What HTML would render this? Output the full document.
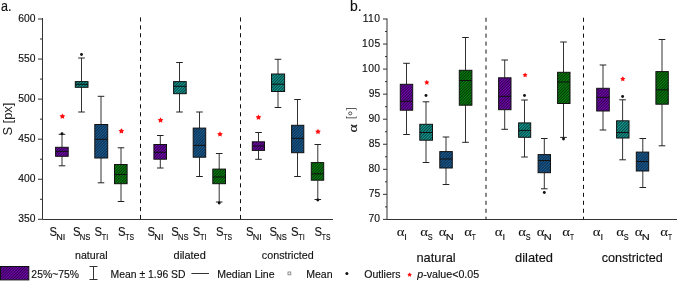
<!DOCTYPE html>
<html><head><meta charset="utf-8"><style>
html,body{margin:0;padding:0;background:#fff;width:677px;height:281px;overflow:hidden}
svg{display:block;will-change:transform}
text{font-family:"Liberation Sans",sans-serif;fill:#111;stroke:#111;stroke-width:0.15px}
.w{stroke:#333;stroke-width:1}
.cap{stroke:#222;stroke-width:1}
.bx{stroke:#111;stroke-width:1}
.med{stroke:#111;stroke-width:1}
.out{fill:#111}
.star{fill:#e8201e;font-size:13px;text-anchor:middle}
.ax{stroke:#333;stroke-width:1;fill:none}
.dash{stroke:#111;stroke-width:1;stroke-dasharray:4 4}
.tl{font-size:10px;text-anchor:end}
.xl{font-size:13px}
.sub{font-size:9px}
.grp{font-size:11px;text-anchor:middle}
.grp2{font-size:13px;text-anchor:middle}
.lg{font-size:10.5px}
</style></head><body>
<svg width="677" height="281" viewBox="0 0 677 281">
<defs>
<pattern id="hP" patternUnits="userSpaceOnUse" width="2" height="2" patternTransform="rotate(45)"><rect width="2" height="2" fill="#760ab4"/><rect width="0.85" height="2" fill="#220038"/></pattern>
<pattern id="hC" patternUnits="userSpaceOnUse" width="2" height="2" patternTransform="rotate(45)"><rect width="2" height="2" fill="#16a096"/><rect width="0.85" height="2" fill="#043030"/></pattern>
<pattern id="hB" patternUnits="userSpaceOnUse" width="2" height="2" patternTransform="rotate(45)"><rect width="2" height="2" fill="#1c5e90"/><rect width="0.85" height="2" fill="#082444"/></pattern>
<pattern id="hG" patternUnits="userSpaceOnUse" width="2" height="2" patternTransform="rotate(45)"><rect width="2" height="2" fill="#0c8414"/><rect width="0.85" height="2" fill="#002a00"/></pattern>
</defs>
<text transform="translate(0.96 10.6) scale(0.838 1)" style="font-size:15px;font-family:'Liberation Sans',sans-serif;">a.</text>
<text transform="translate(349.92 10.6) scale(0.931 1)" style="font-size:15px;font-family:'Liberation Sans',sans-serif;">b.</text>
<path d="M42.5 18 V219.5 H333" class="ax"/>
<line x1="38" y1="19.00" x2="42.5" y2="19.00" class="ax"/>
<text transform="translate(18.20 21.7) scale(1.000 1)" style="font-size:10.3px;font-family:'Liberation Sans',sans-serif;">600</text>
<line x1="40" y1="39.03" x2="42.5" y2="39.03" class="ax"/>
<line x1="38" y1="59.06" x2="42.5" y2="59.06" class="ax"/>
<text transform="translate(18.20 61.76) scale(1.000 1)" style="font-size:10.3px;font-family:'Liberation Sans',sans-serif;">550</text>
<line x1="40" y1="79.09" x2="42.5" y2="79.09" class="ax"/>
<line x1="38" y1="99.12" x2="42.5" y2="99.12" class="ax"/>
<text transform="translate(18.20 101.82) scale(1.000 1)" style="font-size:10.3px;font-family:'Liberation Sans',sans-serif;">500</text>
<line x1="40" y1="119.15" x2="42.5" y2="119.15" class="ax"/>
<line x1="38" y1="139.18" x2="42.5" y2="139.18" class="ax"/>
<text transform="translate(18.20 141.88) scale(1.000 1)" style="font-size:10.3px;font-family:'Liberation Sans',sans-serif;">450</text>
<line x1="40" y1="159.21" x2="42.5" y2="159.21" class="ax"/>
<line x1="38" y1="179.24" x2="42.5" y2="179.24" class="ax"/>
<text transform="translate(18.20 181.94) scale(1.000 1)" style="font-size:10.3px;font-family:'Liberation Sans',sans-serif;">400</text>
<line x1="40" y1="199.27" x2="42.5" y2="199.27" class="ax"/>
<line x1="38" y1="219.30" x2="42.5" y2="219.30" class="ax"/>
<text transform="translate(18.20 222.0) scale(1.000 1)" style="font-size:10.3px;font-family:'Liberation Sans',sans-serif;">350</text>
<text transform="translate(12.0 135.60) rotate(-90) scale(0.994 1)" style="font-size:13px;font-family:'Liberation Sans',sans-serif;stroke-width:0;fill:#222">S [px]</text>
<line x1="140.5" y1="17.4" x2="140.5" y2="219" class="dash" style="stroke-dasharray:4.1 3.8"/>
<line x1="240.5" y1="17.4" x2="240.5" y2="219" class="dash" style="stroke-dasharray:4.1 3.8"/>
<path d="M387.0 18.5 V219.5 H677" class="ax"/>
<line x1="383" y1="19.00" x2="387.0" y2="19.00" class="ax"/>
<text transform="translate(362.65 21.7) scale(1.000 1)" style="font-size:10.3px;font-family:'Liberation Sans',sans-serif;letter-spacing:0.5px;">110</text>
<line x1="385" y1="31.52" x2="387.0" y2="31.52" class="ax"/>
<line x1="383" y1="44.05" x2="387.0" y2="44.05" class="ax"/>
<text transform="translate(361.95 46.75) scale(1.000 1)" style="font-size:10.3px;font-family:'Liberation Sans',sans-serif;letter-spacing:0.5px;">105</text>
<line x1="385" y1="56.57" x2="387.0" y2="56.57" class="ax"/>
<line x1="383" y1="69.10" x2="387.0" y2="69.10" class="ax"/>
<text transform="translate(361.90 71.8) scale(1.000 1)" style="font-size:10.3px;font-family:'Liberation Sans',sans-serif;letter-spacing:0.5px;">100</text>
<line x1="385" y1="81.62" x2="387.0" y2="81.62" class="ax"/>
<line x1="383" y1="94.15" x2="387.0" y2="94.15" class="ax"/>
<text transform="translate(368.65 96.85) scale(1.000 1)" style="font-size:10.3px;font-family:'Liberation Sans',sans-serif;">95</text>
<line x1="385" y1="106.68" x2="387.0" y2="106.68" class="ax"/>
<line x1="383" y1="119.20" x2="387.0" y2="119.20" class="ax"/>
<text transform="translate(368.60 121.9) scale(1.000 1)" style="font-size:10.3px;font-family:'Liberation Sans',sans-serif;">90</text>
<line x1="385" y1="131.72" x2="387.0" y2="131.72" class="ax"/>
<line x1="383" y1="144.25" x2="387.0" y2="144.25" class="ax"/>
<text transform="translate(368.65 146.95) scale(1.000 1)" style="font-size:10.3px;font-family:'Liberation Sans',sans-serif;">85</text>
<line x1="385" y1="156.78" x2="387.0" y2="156.78" class="ax"/>
<line x1="383" y1="169.30" x2="387.0" y2="169.30" class="ax"/>
<text transform="translate(368.60 172.0) scale(1.000 1)" style="font-size:10.3px;font-family:'Liberation Sans',sans-serif;">80</text>
<line x1="385" y1="181.83" x2="387.0" y2="181.83" class="ax"/>
<line x1="383" y1="194.35" x2="387.0" y2="194.35" class="ax"/>
<text transform="translate(368.65 197.05) scale(1.000 1)" style="font-size:10.3px;font-family:'Liberation Sans',sans-serif;">75</text>
<line x1="385" y1="206.88" x2="387.0" y2="206.88" class="ax"/>
<line x1="383" y1="219.40" x2="387.0" y2="219.40" class="ax"/>
<text transform="translate(368.60 222.1) scale(1.000 1)" style="font-size:10.3px;font-family:'Liberation Sans',sans-serif;">70</text>
<text transform="translate(357.0 132.60) rotate(-90) scale(1.333 1)" style="font-size:12px;font-family:'Liberation Serif',serif;">α</text>
<text transform="translate(355.3 118.95) rotate(-90) scale(0.787 1)" style="font-size:12.5px;font-family:'Liberation Serif',serif;stroke-width:0;fill:#222">[  ]</text>
<circle cx="350.2" cy="113.4" r="1.55" fill="none" stroke="#222" stroke-width="0.75"/>
<line x1="486" y1="17.7" x2="486" y2="219" class="dash" style="stroke-dasharray:4.1 3.86"/>
<line x1="583.5" y1="17.7" x2="583.5" y2="219" class="dash" style="stroke-dasharray:4.1 3.86"/>
<line x1="62.0" y1="134.3" x2="62.0" y2="147.3" class="w"/>
<line x1="62.0" y1="156.29999999999998" x2="62.0" y2="165.8" class="w"/>
<line x1="58.7" y1="134.3" x2="65.3" y2="134.3" class="cap"/>
<line x1="58.7" y1="165.8" x2="65.3" y2="165.8" class="cap"/>
<rect x="55.599999999999994" y="147.3" width="12.600000000000009" height="8.999999999999972" fill="url(#hP)" class="bx"/>
<line x1="55.599999999999994" y1="151.4" x2="68.2" y2="151.4" class="med"/>
<circle cx="62.0" cy="133.8" r="1.45" class="out"/>
<polygon points="62.40,113.45 63.35,115.09 65.21,115.49 63.94,116.90 64.13,118.79 62.40,118.02 60.67,118.79 60.86,116.90 59.59,115.49 61.45,115.09" fill="#ff1010"/>
<line x1="81.5" y1="58.0" x2="81.5" y2="81.6" class="w"/>
<line x1="81.5" y1="87.3" x2="81.5" y2="112.0" class="w"/>
<line x1="78.2" y1="58.0" x2="84.8" y2="58.0" class="cap"/>
<line x1="78.2" y1="112.0" x2="84.8" y2="112.0" class="cap"/>
<rect x="75.3" y="81.6" width="12.700000000000003" height="5.700000000000003" fill="url(#hC)" class="bx"/>
<line x1="75.3" y1="84.3" x2="88.0" y2="84.3" class="med"/>
<circle cx="81.5" cy="54.5" r="1.45" class="out"/>
<line x1="101.0" y1="96.3" x2="101.0" y2="124.5" class="w"/>
<line x1="101.0" y1="158.0" x2="101.0" y2="182.8" class="w"/>
<line x1="97.7" y1="96.3" x2="104.3" y2="96.3" class="cap"/>
<line x1="97.7" y1="182.8" x2="104.3" y2="182.8" class="cap"/>
<rect x="94.8" y="124.5" width="12.900000000000006" height="33.5" fill="url(#hB)" class="bx"/>
<line x1="94.8" y1="139.3" x2="107.7" y2="139.3" class="med"/>
<line x1="121.0" y1="147.8" x2="121.0" y2="164.5" class="w"/>
<line x1="121.0" y1="183.7" x2="121.0" y2="201.5" class="w"/>
<line x1="117.7" y1="147.8" x2="124.3" y2="147.8" class="cap"/>
<line x1="117.7" y1="201.5" x2="124.3" y2="201.5" class="cap"/>
<rect x="114.5" y="164.5" width="12.600000000000009" height="19.19999999999999" fill="url(#hG)" class="bx"/>
<line x1="114.5" y1="174.5" x2="127.10000000000001" y2="174.5" class="med"/>
<polygon points="121.40,128.15 122.35,129.79 124.21,130.19 122.94,131.60 123.13,133.49 121.40,132.72 119.67,133.49 119.86,131.60 118.59,130.19 120.45,129.79" fill="#ff1010"/>
<line x1="160.3" y1="135.5" x2="160.3" y2="144.5" class="w"/>
<line x1="160.3" y1="159.2" x2="160.3" y2="168.0" class="w"/>
<line x1="157.0" y1="135.5" x2="163.60000000000002" y2="135.5" class="cap"/>
<line x1="157.0" y1="168.0" x2="163.60000000000002" y2="168.0" class="cap"/>
<rect x="153.9" y="144.5" width="12.599999999999994" height="14.699999999999989" fill="url(#hP)" class="bx"/>
<line x1="153.9" y1="152.3" x2="166.5" y2="152.3" class="med"/>
<polygon points="160.55,117.30 161.50,118.94 163.36,119.34 162.09,120.75 162.28,122.64 160.55,121.87 158.82,122.64 159.01,120.75 157.74,119.34 159.60,118.94" fill="#ff1010"/>
<line x1="179.5" y1="62.5" x2="179.5" y2="81.6" class="w"/>
<line x1="179.5" y1="93.7" x2="179.5" y2="112.0" class="w"/>
<line x1="176.2" y1="62.5" x2="182.8" y2="62.5" class="cap"/>
<line x1="176.2" y1="112.0" x2="182.8" y2="112.0" class="cap"/>
<rect x="173.60000000000002" y="81.6" width="12.599999999999966" height="12.100000000000009" fill="url(#hC)" class="bx"/>
<line x1="173.60000000000002" y1="86.3" x2="186.2" y2="86.3" class="med"/>
<line x1="199.5" y1="112.0" x2="199.5" y2="128.1" class="w"/>
<line x1="199.5" y1="157.2" x2="199.5" y2="176.5" class="w"/>
<line x1="196.2" y1="112.0" x2="202.8" y2="112.0" class="cap"/>
<line x1="196.2" y1="176.5" x2="202.8" y2="176.5" class="cap"/>
<rect x="193.20000000000002" y="128.1" width="12.499999999999972" height="29.099999999999994" fill="url(#hB)" class="bx"/>
<line x1="193.20000000000002" y1="145.4" x2="205.7" y2="145.4" class="med"/>
<line x1="219.2" y1="153.5" x2="219.2" y2="169.10000000000002" class="w"/>
<line x1="219.2" y1="183.7" x2="219.2" y2="202.0" class="w"/>
<line x1="215.89999999999998" y1="153.5" x2="222.5" y2="153.5" class="cap"/>
<line x1="215.89999999999998" y1="202.0" x2="222.5" y2="202.0" class="cap"/>
<rect x="212.8" y="169.10000000000002" width="12.699999999999989" height="14.599999999999966" fill="url(#hG)" class="bx"/>
<line x1="212.8" y1="177.0" x2="225.5" y2="177.0" class="med"/>
<circle cx="219.2" cy="203.0" r="1.45" class="out"/>
<polygon points="220.00,131.25 220.95,132.89 222.81,133.29 221.54,134.70 221.73,136.59 220.00,135.82 218.27,136.59 218.46,134.70 217.19,133.29 219.05,132.89" fill="#ff1010"/>
<line x1="258.5" y1="132.5" x2="258.5" y2="141.8" class="w"/>
<line x1="258.5" y1="150.39999999999998" x2="258.5" y2="159.3" class="w"/>
<line x1="255.2" y1="132.5" x2="261.8" y2="132.5" class="cap"/>
<line x1="255.2" y1="159.3" x2="261.8" y2="159.3" class="cap"/>
<rect x="252.3" y="141.8" width="12.199999999999989" height="8.599999999999966" fill="url(#hP)" class="bx"/>
<line x1="252.3" y1="146.0" x2="264.5" y2="146.0" class="med"/>
<polygon points="258.50,114.45 259.45,116.09 261.31,116.49 260.04,117.90 260.23,119.79 258.50,119.02 256.77,119.79 256.96,117.90 255.69,116.49 257.55,116.09" fill="#ff1010"/>
<line x1="278.0" y1="59.3" x2="278.0" y2="74.0" class="w"/>
<line x1="278.0" y1="91.5" x2="278.0" y2="107.5" class="w"/>
<line x1="274.7" y1="59.3" x2="281.3" y2="59.3" class="cap"/>
<line x1="274.7" y1="107.5" x2="281.3" y2="107.5" class="cap"/>
<rect x="271.5" y="74.0" width="13.099999999999966" height="17.5" fill="url(#hC)" class="bx"/>
<line x1="271.5" y1="84.2" x2="284.59999999999997" y2="84.2" class="med"/>
<line x1="297.5" y1="99.5" x2="297.5" y2="125.3" class="w"/>
<line x1="297.5" y1="152.7" x2="297.5" y2="176.5" class="w"/>
<line x1="294.2" y1="99.5" x2="300.8" y2="99.5" class="cap"/>
<line x1="294.2" y1="176.5" x2="300.8" y2="176.5" class="cap"/>
<rect x="291.6" y="125.3" width="12.199999999999989" height="27.39999999999999" fill="url(#hB)" class="bx"/>
<line x1="291.6" y1="138.3" x2="303.8" y2="138.3" class="med"/>
<line x1="317.8" y1="144.5" x2="317.8" y2="162.60000000000002" class="w"/>
<line x1="317.8" y1="180.2" x2="317.8" y2="199.5" class="w"/>
<line x1="314.5" y1="144.5" x2="321.1" y2="144.5" class="cap"/>
<line x1="314.5" y1="199.5" x2="321.1" y2="199.5" class="cap"/>
<rect x="311.3" y="162.60000000000002" width="12.399999999999977" height="17.599999999999966" fill="url(#hG)" class="bx"/>
<line x1="311.3" y1="173.8" x2="323.7" y2="173.8" class="med"/>
<circle cx="317.8" cy="200.0" r="1.45" class="out"/>
<polygon points="318.00,128.75 318.95,130.39 320.81,130.79 319.54,132.20 319.73,134.09 318.00,133.32 316.27,134.09 316.46,132.20 315.19,130.79 317.05,130.39" fill="#ff1010"/>
<line x1="406.5" y1="63.3" x2="406.5" y2="84.3" class="w"/>
<line x1="406.5" y1="110.2" x2="406.5" y2="134.5" class="w"/>
<line x1="403.2" y1="63.3" x2="409.8" y2="63.3" class="cap"/>
<line x1="403.2" y1="134.5" x2="409.8" y2="134.5" class="cap"/>
<rect x="400.3" y="84.3" width="12.399999999999977" height="25.900000000000006" fill="url(#hP)" class="bx"/>
<line x1="400.3" y1="101.3" x2="412.7" y2="101.3" class="med"/>
<line x1="426.0" y1="101.8" x2="426.0" y2="124.3" class="w"/>
<line x1="426.0" y1="140.2" x2="426.0" y2="162.5" class="w"/>
<line x1="422.7" y1="101.8" x2="429.3" y2="101.8" class="cap"/>
<line x1="422.7" y1="162.5" x2="429.3" y2="162.5" class="cap"/>
<rect x="419.8" y="124.3" width="12.699999999999989" height="15.899999999999991" fill="url(#hC)" class="bx"/>
<line x1="419.8" y1="132.5" x2="432.5" y2="132.5" class="med"/>
<circle cx="426.0" cy="95.5" r="1.45" class="out"/>
<polygon points="426.80,79.85 427.66,81.32 429.32,81.68 428.19,82.95 428.36,84.64 426.80,83.96 425.24,84.64 425.41,82.95 424.28,81.68 425.94,81.32" fill="#ff1010"/>
<line x1="446.0" y1="137.0" x2="446.0" y2="151.60000000000002" class="w"/>
<line x1="446.0" y1="168.0" x2="446.0" y2="184.5" class="w"/>
<line x1="442.7" y1="137.0" x2="449.3" y2="137.0" class="cap"/>
<line x1="442.7" y1="184.5" x2="449.3" y2="184.5" class="cap"/>
<rect x="439.8" y="151.60000000000002" width="12.5" height="16.399999999999977" fill="url(#hB)" class="bx"/>
<line x1="439.8" y1="159.0" x2="452.3" y2="159.0" class="med"/>
<line x1="465.5" y1="37.5" x2="465.5" y2="70.3" class="w"/>
<line x1="465.5" y1="105.2" x2="465.5" y2="142.3" class="w"/>
<line x1="462.2" y1="37.5" x2="468.8" y2="37.5" class="cap"/>
<line x1="462.2" y1="142.3" x2="468.8" y2="142.3" class="cap"/>
<rect x="459.3" y="70.3" width="12.599999999999966" height="34.900000000000006" fill="url(#hG)" class="bx"/>
<line x1="459.3" y1="80.5" x2="471.9" y2="80.5" class="med"/>
<line x1="504.7" y1="60.0" x2="504.7" y2="77.8" class="w"/>
<line x1="504.7" y1="109.7" x2="504.7" y2="129.3" class="w"/>
<line x1="501.4" y1="60.0" x2="508.0" y2="60.0" class="cap"/>
<line x1="501.4" y1="129.3" x2="508.0" y2="129.3" class="cap"/>
<rect x="498.6" y="77.8" width="12.399999999999977" height="31.900000000000006" fill="url(#hP)" class="bx"/>
<line x1="498.6" y1="96.3" x2="511.0" y2="96.3" class="med"/>
<line x1="524.5" y1="100.0" x2="524.5" y2="122.89999999999999" class="w"/>
<line x1="524.5" y1="137.29999999999998" x2="524.5" y2="157.0" class="w"/>
<line x1="521.2" y1="100.0" x2="527.8" y2="100.0" class="cap"/>
<line x1="521.2" y1="157.0" x2="527.8" y2="157.0" class="cap"/>
<rect x="518.5999999999999" y="122.89999999999999" width="12.100000000000136" height="14.399999999999991" fill="url(#hC)" class="bx"/>
<line x1="518.5999999999999" y1="130.4" x2="530.7" y2="130.4" class="med"/>
<circle cx="524.5" cy="95.5" r="1.45" class="out"/>
<polygon points="525.10,72.45 525.96,73.92 527.62,74.28 526.49,75.55 526.66,77.24 525.10,76.56 523.54,77.24 523.71,75.55 522.58,74.28 524.24,73.92" fill="#ff1010"/>
<line x1="544.3" y1="138.5" x2="544.3" y2="154.60000000000002" class="w"/>
<line x1="544.3" y1="172.7" x2="544.3" y2="188.8" class="w"/>
<line x1="541.0" y1="138.5" x2="547.5999999999999" y2="138.5" class="cap"/>
<line x1="541.0" y1="188.8" x2="547.5999999999999" y2="188.8" class="cap"/>
<rect x="538.0999999999999" y="154.60000000000002" width="12.400000000000091" height="18.099999999999966" fill="url(#hB)" class="bx"/>
<line x1="538.0999999999999" y1="160.5" x2="550.5" y2="160.5" class="med"/>
<circle cx="544.3" cy="192.5" r="1.45" class="out"/>
<line x1="563.5" y1="42.0" x2="563.5" y2="72.3" class="w"/>
<line x1="563.5" y1="103.5" x2="563.5" y2="137.4" class="w"/>
<line x1="560.2" y1="42.0" x2="566.8" y2="42.0" class="cap"/>
<line x1="560.2" y1="137.4" x2="566.8" y2="137.4" class="cap"/>
<rect x="557.5999999999999" y="72.3" width="12.400000000000091" height="31.200000000000003" fill="url(#hG)" class="bx"/>
<line x1="557.5999999999999" y1="82.0" x2="570.0" y2="82.0" class="med"/>
<circle cx="563.5" cy="139.0" r="1.45" class="out"/>
<line x1="603.0" y1="65.0" x2="603.0" y2="88.3" class="w"/>
<line x1="603.0" y1="111.0" x2="603.0" y2="130.0" class="w"/>
<line x1="599.7" y1="65.0" x2="606.3" y2="65.0" class="cap"/>
<line x1="599.7" y1="130.0" x2="606.3" y2="130.0" class="cap"/>
<rect x="596.6999999999999" y="88.3" width="12.600000000000136" height="22.700000000000003" fill="url(#hP)" class="bx"/>
<line x1="596.6999999999999" y1="97.3" x2="609.3000000000001" y2="97.3" class="med"/>
<line x1="622.6" y1="99.8" x2="622.6" y2="120.8" class="w"/>
<line x1="622.6" y1="138.0" x2="622.6" y2="159.8" class="w"/>
<line x1="619.3000000000001" y1="99.8" x2="625.9" y2="99.8" class="cap"/>
<line x1="619.3000000000001" y1="159.8" x2="625.9" y2="159.8" class="cap"/>
<rect x="616.5999999999999" y="120.8" width="12.400000000000091" height="17.200000000000003" fill="url(#hC)" class="bx"/>
<line x1="616.5999999999999" y1="132.5" x2="629.0" y2="132.5" class="med"/>
<circle cx="622.6" cy="96.5" r="1.45" class="out"/>
<polygon points="622.80,76.35 623.66,77.82 625.32,78.18 624.19,79.45 624.36,81.14 622.80,80.46 621.24,81.14 621.41,79.45 620.28,78.18 621.94,77.82" fill="#ff1010"/>
<line x1="642.8" y1="138.5" x2="642.8" y2="152.10000000000002" class="w"/>
<line x1="642.8" y1="171.0" x2="642.8" y2="187.5" class="w"/>
<line x1="639.5" y1="138.5" x2="646.0999999999999" y2="138.5" class="cap"/>
<line x1="639.5" y1="187.5" x2="646.0999999999999" y2="187.5" class="cap"/>
<rect x="636.3" y="152.10000000000002" width="12.400000000000091" height="18.899999999999977" fill="url(#hB)" class="bx"/>
<line x1="636.3" y1="161.5" x2="648.7" y2="161.5" class="med"/>
<line x1="662.0" y1="39.5" x2="662.0" y2="71.6" class="w"/>
<line x1="662.0" y1="104.2" x2="662.0" y2="145.8" class="w"/>
<line x1="658.7" y1="39.5" x2="665.3" y2="39.5" class="cap"/>
<line x1="658.7" y1="145.8" x2="665.3" y2="145.8" class="cap"/>
<rect x="655.9" y="71.6" width="12.400000000000091" height="32.60000000000001" fill="url(#hG)" class="bx"/>
<line x1="655.9" y1="89.8" x2="668.3000000000001" y2="89.8" class="med"/>
<text transform="translate(49.39 236.2) scale(0.855 1)" style="font-size:13.2px;font-family:'Liberation Sans',sans-serif;">S</text>
<text transform="translate(56.15 239.8) scale(0.943 1)" style="font-size:9.6px;font-family:'Liberation Sans',sans-serif;">NI</text>
<text transform="translate(72.99 236.2) scale(0.855 1)" style="font-size:13.2px;font-family:'Liberation Sans',sans-serif;">S</text>
<text transform="translate(79.87 239.8) scale(0.793 1)" style="font-size:9.6px;font-family:'Liberation Sans',sans-serif;">NS</text>
<text transform="translate(94.49 236.2) scale(0.855 1)" style="font-size:13.2px;font-family:'Liberation Sans',sans-serif;">S</text>
<text transform="translate(101.85 239.8) scale(0.752 1)" style="font-size:9.6px;font-family:'Liberation Sans',sans-serif;">TI</text>
<text transform="translate(117.89 236.2) scale(0.855 1)" style="font-size:13.2px;font-family:'Liberation Sans',sans-serif;">S</text>
<text transform="translate(125.26 239.8) scale(0.707 1)" style="font-size:9.6px;font-family:'Liberation Sans',sans-serif;">TS</text>
<text transform="translate(147.59 236.2) scale(0.855 1)" style="font-size:13.2px;font-family:'Liberation Sans',sans-serif;">S</text>
<text transform="translate(154.35 239.8) scale(0.943 1)" style="font-size:9.6px;font-family:'Liberation Sans',sans-serif;">NI</text>
<text transform="translate(171.19 236.2) scale(0.855 1)" style="font-size:13.2px;font-family:'Liberation Sans',sans-serif;">S</text>
<text transform="translate(178.07 239.8) scale(0.793 1)" style="font-size:9.6px;font-family:'Liberation Sans',sans-serif;">NS</text>
<text transform="translate(192.69 236.2) scale(0.855 1)" style="font-size:13.2px;font-family:'Liberation Sans',sans-serif;">S</text>
<text transform="translate(200.05 239.8) scale(0.752 1)" style="font-size:9.6px;font-family:'Liberation Sans',sans-serif;">TI</text>
<text transform="translate(216.09 236.2) scale(0.855 1)" style="font-size:13.2px;font-family:'Liberation Sans',sans-serif;">S</text>
<text transform="translate(223.46 239.8) scale(0.707 1)" style="font-size:9.6px;font-family:'Liberation Sans',sans-serif;">TS</text>
<text transform="translate(245.89 236.2) scale(0.855 1)" style="font-size:13.2px;font-family:'Liberation Sans',sans-serif;">S</text>
<text transform="translate(252.65 239.8) scale(0.943 1)" style="font-size:9.6px;font-family:'Liberation Sans',sans-serif;">NI</text>
<text transform="translate(269.49 236.2) scale(0.855 1)" style="font-size:13.2px;font-family:'Liberation Sans',sans-serif;">S</text>
<text transform="translate(276.37 239.8) scale(0.793 1)" style="font-size:9.6px;font-family:'Liberation Sans',sans-serif;">NS</text>
<text transform="translate(290.99 236.2) scale(0.855 1)" style="font-size:13.2px;font-family:'Liberation Sans',sans-serif;">S</text>
<text transform="translate(298.35 239.8) scale(0.752 1)" style="font-size:9.6px;font-family:'Liberation Sans',sans-serif;">TI</text>
<text transform="translate(314.39 236.2) scale(0.855 1)" style="font-size:13.2px;font-family:'Liberation Sans',sans-serif;">S</text>
<text transform="translate(321.76 239.8) scale(0.707 1)" style="font-size:9.6px;font-family:'Liberation Sans',sans-serif;">TS</text>
<text transform="translate(75.08 259.3) scale(0.964 1)" style="font-size:11px;font-family:'Liberation Sans',sans-serif;">natural</text>
<text transform="translate(173.55 259.3) scale(0.995 1)" style="font-size:11px;font-family:'Liberation Sans',sans-serif;">dilated</text>
<text transform="translate(261.86 259.3) scale(0.977 1)" style="font-size:11px;font-family:'Liberation Sans',sans-serif;">constricted</text>
<text transform="translate(396.73 236.0) scale(1.133 1)" style="font-size:13px;font-family:'Liberation Serif',serif;stroke-width:0.05px;">α</text>
<text transform="translate(404.35 239.8) scale(1.000 1)" style="font-size:9.3px;font-family:'Liberation Sans',sans-serif;">I</text>
<text transform="translate(420.23 236.0) scale(1.133 1)" style="font-size:13px;font-family:'Liberation Serif',serif;stroke-width:0.05px;">α</text>
<text transform="translate(427.75 239.8) scale(0.785 1)" style="font-size:9.3px;font-family:'Liberation Sans',sans-serif;">S</text>
<text transform="translate(438.73 236.0) scale(1.133 1)" style="font-size:13px;font-family:'Liberation Serif',serif;stroke-width:0.05px;">α</text>
<text transform="translate(445.71 239.8) scale(1.192 1)" style="font-size:9.3px;font-family:'Liberation Sans',sans-serif;">N</text>
<text transform="translate(464.13 236.0) scale(1.133 1)" style="font-size:13px;font-family:'Liberation Serif',serif;stroke-width:0.05px;">α</text>
<text transform="translate(471.86 239.8) scale(0.705 1)" style="font-size:9.3px;font-family:'Liberation Sans',sans-serif;">T</text>
<text transform="translate(494.83 236.0) scale(1.133 1)" style="font-size:13px;font-family:'Liberation Serif',serif;stroke-width:0.05px;">α</text>
<text transform="translate(502.45 239.8) scale(1.000 1)" style="font-size:9.3px;font-family:'Liberation Sans',sans-serif;">I</text>
<text transform="translate(518.33 236.0) scale(1.133 1)" style="font-size:13px;font-family:'Liberation Serif',serif;stroke-width:0.05px;">α</text>
<text transform="translate(525.85 239.8) scale(0.785 1)" style="font-size:9.3px;font-family:'Liberation Sans',sans-serif;">S</text>
<text transform="translate(536.83 236.0) scale(1.133 1)" style="font-size:13px;font-family:'Liberation Serif',serif;stroke-width:0.05px;">α</text>
<text transform="translate(543.81 239.8) scale(1.192 1)" style="font-size:9.3px;font-family:'Liberation Sans',sans-serif;">N</text>
<text transform="translate(562.23 236.0) scale(1.133 1)" style="font-size:13px;font-family:'Liberation Serif',serif;stroke-width:0.05px;">α</text>
<text transform="translate(569.96 239.8) scale(0.705 1)" style="font-size:9.3px;font-family:'Liberation Sans',sans-serif;">T</text>
<text transform="translate(592.83 236.0) scale(1.133 1)" style="font-size:13px;font-family:'Liberation Serif',serif;stroke-width:0.05px;">α</text>
<text transform="translate(600.45 239.8) scale(1.000 1)" style="font-size:9.3px;font-family:'Liberation Sans',sans-serif;">I</text>
<text transform="translate(616.33 236.0) scale(1.133 1)" style="font-size:13px;font-family:'Liberation Serif',serif;stroke-width:0.05px;">α</text>
<text transform="translate(623.85 239.8) scale(0.785 1)" style="font-size:9.3px;font-family:'Liberation Sans',sans-serif;">S</text>
<text transform="translate(634.83 236.0) scale(1.133 1)" style="font-size:13px;font-family:'Liberation Serif',serif;stroke-width:0.05px;">α</text>
<text transform="translate(641.81 239.8) scale(1.192 1)" style="font-size:9.3px;font-family:'Liberation Sans',sans-serif;">N</text>
<text transform="translate(660.23 236.0) scale(1.133 1)" style="font-size:13px;font-family:'Liberation Serif',serif;stroke-width:0.05px;">α</text>
<text transform="translate(667.96 239.8) scale(0.705 1)" style="font-size:9.3px;font-family:'Liberation Sans',sans-serif;">T</text>
<text transform="translate(416.46 261.6) scale(0.989 1)" style="font-size:13px;font-family:'Liberation Sans',sans-serif;">natural</text>
<text transform="translate(515.06 261.8) scale(0.991 1)" style="font-size:13px;font-family:'Liberation Sans',sans-serif;">dilated</text>
<text transform="translate(601.77 261.6) scale(0.969 1)" style="font-size:13px;font-family:'Liberation Sans',sans-serif;">constricted</text>
<rect x="0.5" y="266.5" width="28.3" height="13.4" fill="url(#hP)" class="bx"/>
<text transform="translate(31.36 277.6) scale(0.990 1)" style="font-size:10.5px;font-family:'Liberation Sans',sans-serif;">25%~75%</text>
<path d="M89.5 266.5 H97.5 M93.5 266.5 V279.5 M89.5 279.5 H97.5" class="ax"/>
<text transform="translate(110.56 277.6) scale(0.989 1)" style="font-size:10.5px;font-family:'Liberation Sans',sans-serif;">Mean ± 1.96 SD</text>
<line x1="191.4" y1="273.5" x2="209" y2="273.5" class="ax"/>
<text transform="translate(217.14 277.6) scale(1.006 1)" style="font-size:10.5px;font-family:'Liberation Sans',sans-serif;">Median Line</text>
<rect x="288" y="272" width="2.8" height="2.8" fill="none" stroke="#777" stroke-width="0.8"/>
<text transform="translate(306.14 277.6) scale(1.006 1)" style="font-size:10.5px;font-family:'Liberation Sans',sans-serif;">Mean</text>
<circle cx="346.9" cy="273.6" r="1.5" class="out"/>
<text transform="translate(364.30 277.6) scale(1.003 1)" style="font-size:10.5px;font-family:'Liberation Sans',sans-serif;">Outliers</text>
<polygon points="409.60,272.40 410.38,273.73 411.88,274.06 410.86,275.21 411.01,276.74 409.60,276.12 408.19,276.74 408.34,275.21 407.32,274.06 408.82,273.73" fill="#ff1010"/>
<text transform="translate(417.19 277.6) scale(1.018 1)" style="font-size:10.5px;font-family:'Liberation Sans',sans-serif;"><tspan style="font-style:italic">p</tspan>-value&lt;0.05</text>
</svg></body></html>
